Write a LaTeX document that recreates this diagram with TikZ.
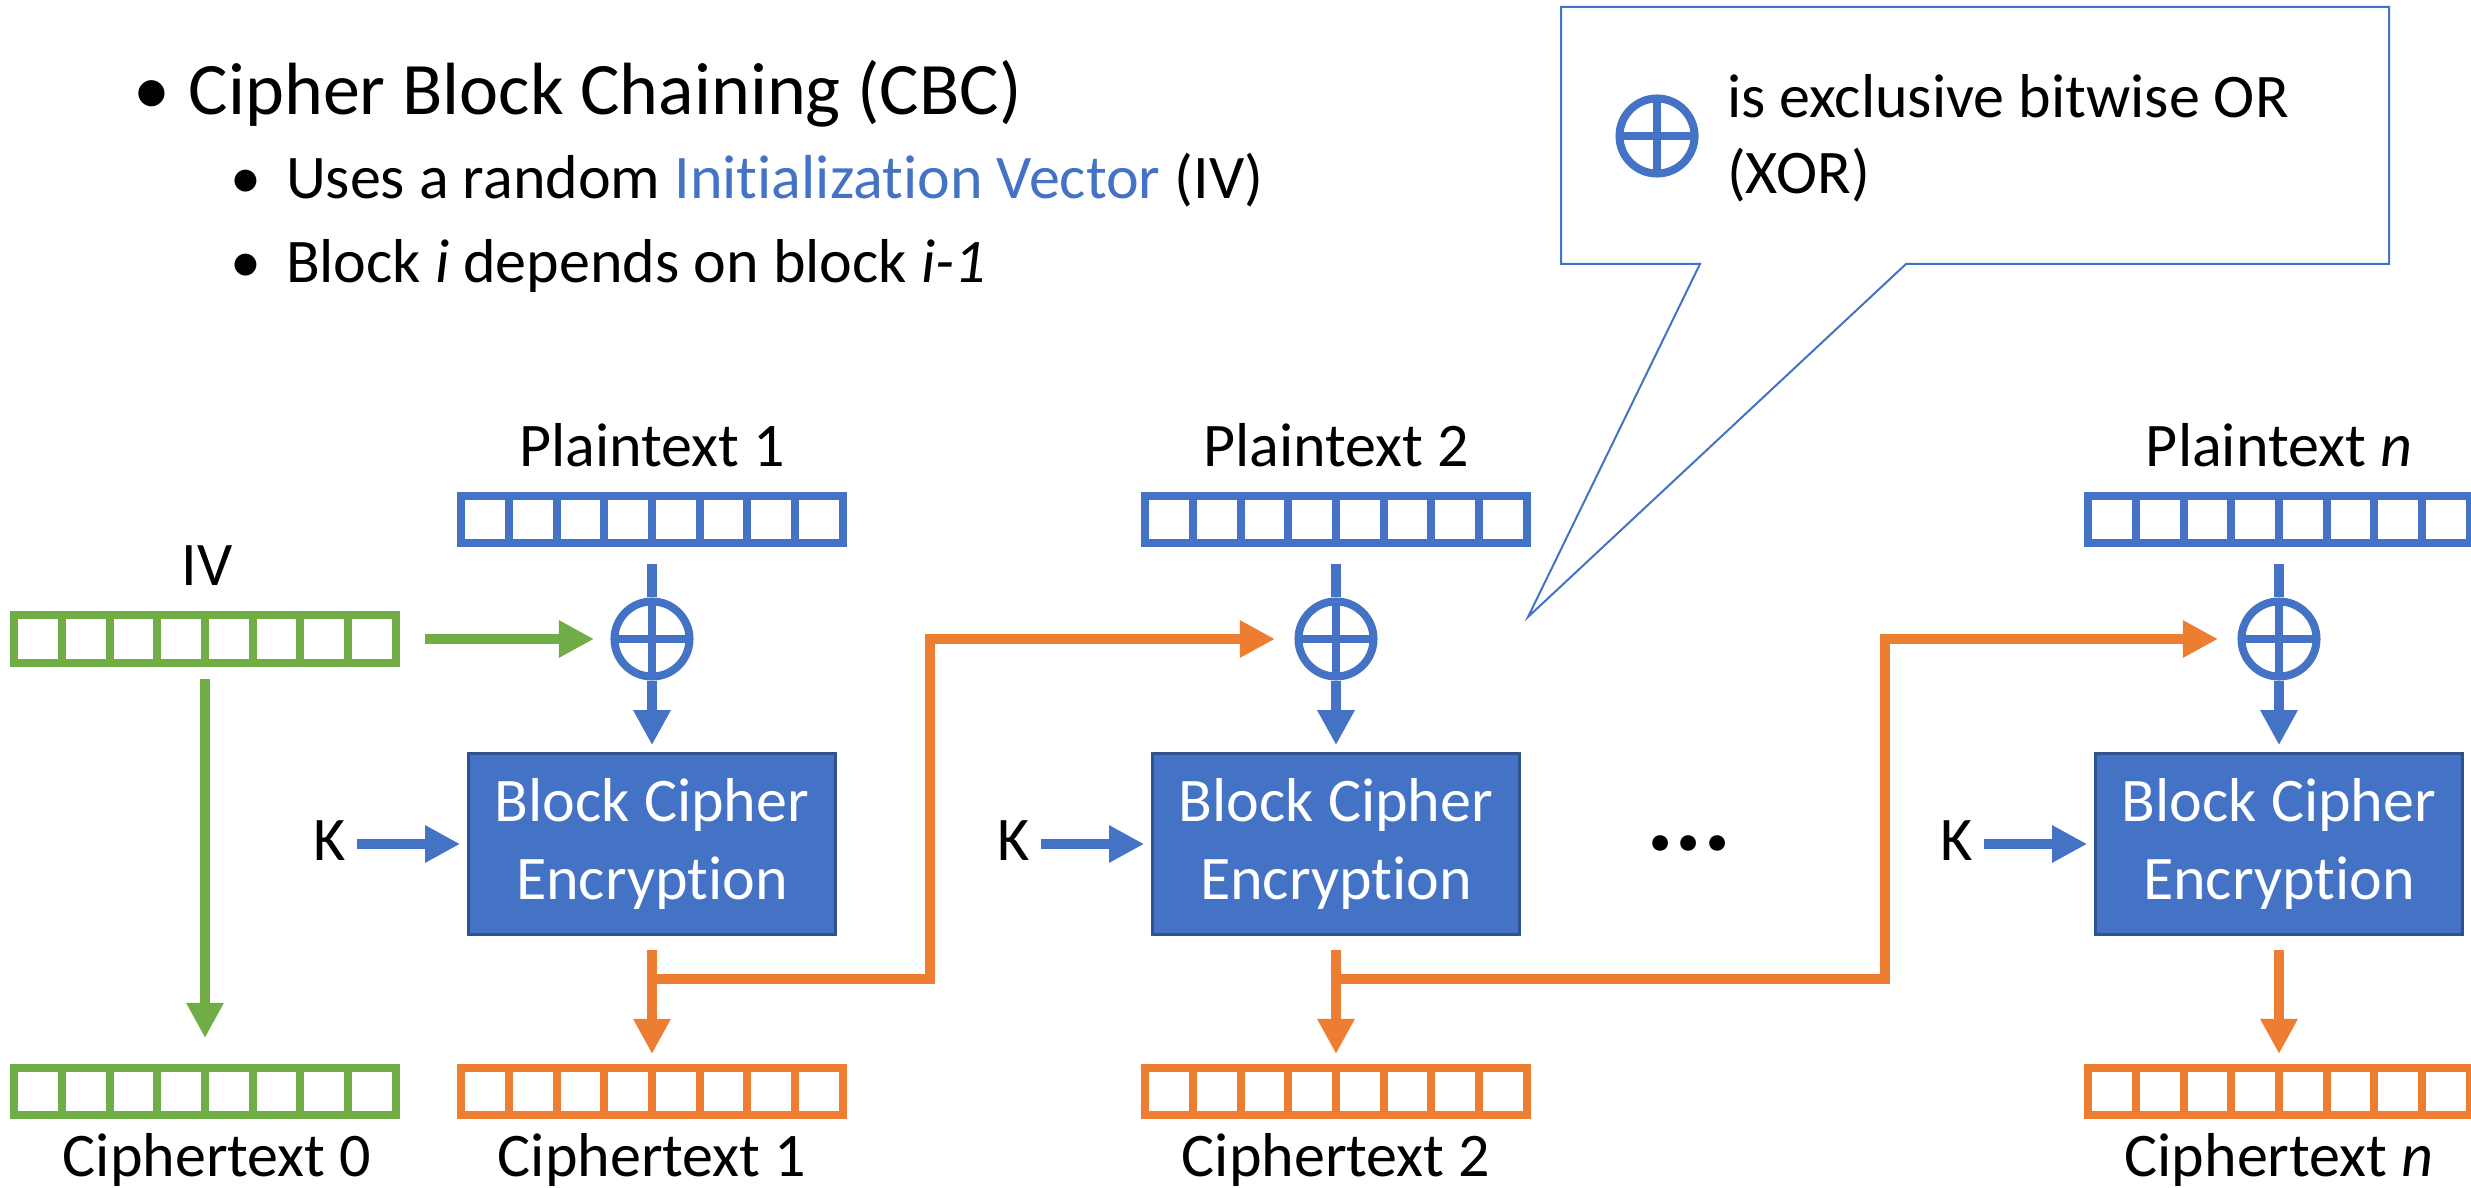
\documentclass[tikz,border=0pt]{standalone}
\usepackage{fontspec}
\setmainfont[Ligatures={TeX,NoCommon}]{Carlito}
\usetikzlibrary{arrows.meta}
\definecolor{cblue}{HTML}{4472C4}
\definecolor{corange}{HTML}{ED7D31}
\definecolor{cgreen}{HTML}{70AD47}
\definecolor{cborder}{HTML}{2F528F}
\begin{document}
\begin{tikzpicture}[x=0.01cm, y=-0.01cm,
  lab/.style={font=\fontsize{17.64pt}{22pt}\selectfont, inner sep=0pt, outer sep=0pt},
  headline/.style={font=\fontsize{21.05pt}{25pt}\selectfont, inner sep=0pt, outer sep=0pt},
  bytes/.style={draw=#1, fill=white, line width=0.08cm, minimum width=3.81cm, minimum height=0.47cm, inner sep=0pt,
    path picture={\foreach \k in {1,...,7}{
      \draw[#1, line width=0.08cm] ([xshift=\k*0.47625cm]path picture bounding box.south west) -- ([xshift=\k*0.47625cm]path picture bounding box.north west);}}},
  xor/.style={circle, draw=cblue, line width=0.08cm, minimum size=0.75cm, inner sep=0pt,
    path picture={\draw[cblue, line width=0.08cm]
      (path picture bounding box.west) -- (path picture bounding box.east)
      (path picture bounding box.north) -- (path picture bounding box.south);}},
  cipherbox/.style={fill=cblue, draw=cborder, line width=0.025cm, minimum width=3.67cm, minimum height=1.81cm,
    text=white, align=center, inner sep=0pt, font=\fontsize{17.64pt}{22.2pt}\selectfont},
  link/.style={line width=0.1cm},
  arr/.style={link, -{Triangle[length=0.35cm, width=0.35cm]}},
]
\useasboundingbox (0,0) rectangle (2471,1188);

% bullet list
\node[headline, anchor=base] (b0) at (152,115) {•};
\node[headline, anchor=base west] (t0) at (189,115) {Cipher Block Chaining (CBC)};
\node[lab, anchor=base] (b1) at (246,199) {•};
\node[lab, anchor=base west] (t1) at (286,199) {Uses a random \textcolor{cblue}{Initialization Vector} (IV)};
\node[lab, anchor=base] (b2) at (246,283) {•};
\node[lab, anchor=base west] (t2) at (286,283) {Block \textit{i} depends on block \textit{i-1}};

% XOR legend callout
\draw[cblue, line width=0.02cm] (1561,7) -- (2389,7) -- (2389,264) -- (1906,264) -- (1528,617)
  -- (1700,264) -- (1561,264) -- cycle;
\node[xor] (xk) at (1657,136) {};
\node[lab, anchor=base west] (xt1) at (1727,118) {is exclusive bitwise OR};
\node[lab, anchor=base west] (xt2) at (1727,194) {(XOR)};

% initialization vector column
\node[lab, anchor=base] (ivl) at (207,585) {IV};
\node[bytes=cgreen] (iv) at (205,639) {};
\node[bytes=cgreen] (c0) at (205,1091.5) {};
\node[lab, anchor=base] (c0l) at (217,1176) {Ciphertext 0};

% block 1
\node[lab, anchor=base] (p1l) at (652,467) {Plaintext 1};
\node[bytes=cblue] (p1) at (652,519.5) {};
\node[xor] (x1) at (652,639) {};
\node[cipherbox] (e1) at (652,844) {Block Cipher\\Encryption};
\node[lab, anchor=base] (k1) at (330,860) {K};
\node[bytes=corange] (c1) at (652,1091.5) {};
\node[lab, anchor=base] (c1l) at (652,1176) {Ciphertext 1};

% block 2
\node[lab, anchor=base] (p2l) at (1336,467) {Plaintext 2};
\node[bytes=cblue] (p2) at (1336,519.5) {};
\node[xor] (x2) at (1336,639) {};
\node[cipherbox] (e2) at (1336,844) {Block Cipher\\Encryption};
\node[lab, anchor=base] (k2) at (1014,860) {K};
\node[bytes=corange] (c2) at (1336,1091.5) {};
\node[lab, anchor=base] (c2l) at (1336,1176) {Ciphertext 2};

% ellipsis between the blocks
\node[font=\fontsize{30pt}{32pt}\selectfont\bfseries, inner sep=0pt, anchor=base] (dots) at (1689,850) {...};

% block n
\node[lab, anchor=base] (pnl) at (2279,467) {Plaintext \textit{n}};
\node[bytes=cblue] (pn) at (2279,519.5) {};
\node[xor] (xn) at (2279,639) {};
\node[cipherbox] (en) at (2279,844) {Block Cipher\\Encryption};
\node[lab, anchor=base] (kn) at (1957,860) {K};
\node[bytes=corange] (cn) at (2279,1091.5) {};
\node[lab, anchor=base] (cnl) at (2279,1176) {Ciphertext \textit{n}};

% IV connections
\draw[arr, cgreen, shorten <=0.25cm, shorten >=0.165cm] (iv.east) -- (x1.west);
\draw[arr, cgreen, shorten <=0.12cm, shorten >=0.26cm] (iv.south) -- (c0.north);

% plaintext into XOR, XOR into cipher, key into cipher, cipher out
\foreach \i in {1,2,n}{
  \draw[link, cblue, shorten <=0.17cm] (p\i.south) -- (x\i.north);
  \draw[arr, cblue, shorten >=0.07cm] (x\i.south) -- (e\i.north);
  \draw[arr, cblue, shorten <=0.11cm, shorten >=0.07cm] (k\i.east |- e\i.west) -- (e\i.west);
  \draw[arr, corange, shorten <=0.14cm, shorten >=0.10cm] (e\i.south) -- (c\i.north);
}

% chaining of ciphertext into the next XOR
\coordinate (j1) at (652,979);
\coordinate (r1) at (930,979);
\draw[arr, corange, shorten >=0.195cm] (j1) -- (r1) |- (x2.west);
\coordinate (j2) at (1336,979);
\coordinate (r2) at (1885,979);
\draw[arr, corange, shorten >=0.195cm] (j2) -- (r2) |- (xn.west);
\end{tikzpicture}
\end{document}
